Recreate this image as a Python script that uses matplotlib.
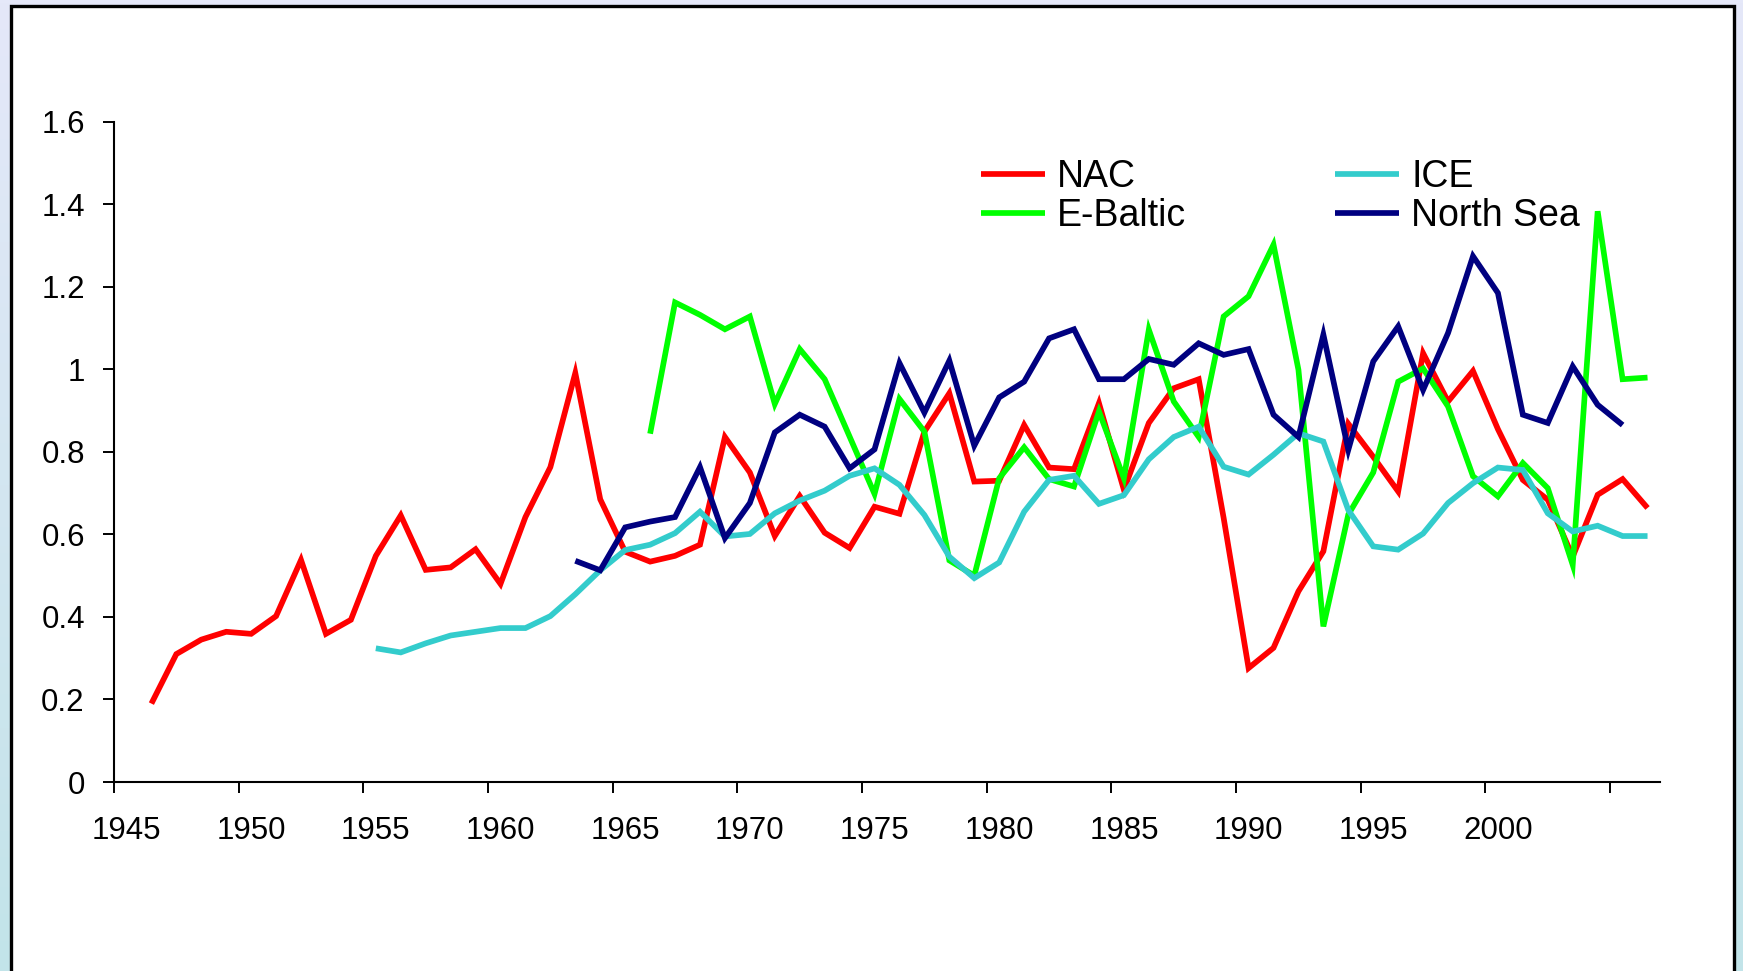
import numpy as np
import matplotlib
matplotlib.use("Agg")
import matplotlib.pyplot as plt
from matplotlib.patches import Rectangle

plt.rcParams['font.family'] = ['Liberation Sans', 'DejaVu Sans']

# ---------------- data ----------------
categories = list(range(1945, 2007))          # category axis 1945..2006
tick_labels = ['1945', '1950', '1955', '1960', '1965', '1970',
               '1975', '1980', '1985', '1990', '1995', '2000']

nac_start = 1946
nac = [0.19, 0.31, 0.345, 0.364, 0.359, 0.402, 0.538, 0.359, 0.393, 0.548,
       0.646, 0.514, 0.520, 0.564, 0.480, 0.642, 0.763, 0.991, 0.685, 0.558,
       0.534, 0.548, 0.575, 0.836, 0.750, 0.596, 0.693, 0.604, 0.567, 0.667,
       0.650, 0.849, 0.942, 0.728, 0.730, 0.865, 0.762, 0.758, 0.918, 0.708,
       0.870, 0.954, 0.976, 0.64, 0.276, 0.325, 0.462, 0.559, 0.868, 0.788,
       0.704, 1.039, 0.922, 0.996, 0.855, 0.732, 0.684, 0.546, 0.696, 0.734,
       0.664]

ebaltic_start = 1966
ebaltic = [0.844, 1.162, 1.132, 1.097, 1.128, 0.916, 1.049, 0.976, 0.837, 0.698,
           0.928, 0.849, 0.537, 0.500, 0.736, 0.811, 0.734, 0.716, 0.898, 0.736,
           1.096, 0.922, 0.836, 1.128, 1.177, 1.302, 0.999, 0.377, 0.648, 0.750,
           0.970, 1.002, 0.910, 0.741, 0.692, 0.773, 0.712, 0.526, 1.383, 0.976,
           0.980]

ice_start = 1955
ice = [0.324, 0.314, 0.336, 0.355, 0.364, 0.373, 0.373, 0.402, 0.455, 0.513,
       0.562, 0.575, 0.603, 0.655, 0.595, 0.601, 0.651, 0.682, 0.706, 0.742,
       0.760, 0.720, 0.647, 0.546, 0.494, 0.532, 0.655, 0.732, 0.742, 0.674,
       0.695, 0.782, 0.836, 0.861, 0.764, 0.745, 0.793, 0.845, 0.825, 0.659,
       0.571, 0.563, 0.602, 0.676, 0.724, 0.762, 0.756, 0.651, 0.607, 0.621,
       0.596, 0.596]

northsea_start = 1963
northsea = [0.536, 0.513, 0.617, 0.631, 0.642, 0.763, 0.591, 0.676, 0.847, 0.890,
            0.861, 0.760, 0.806, 1.015, 0.895, 1.021, 0.815, 0.932, 0.970, 1.075,
            1.097, 0.976, 0.976, 1.025, 1.011, 1.063, 1.035, 1.049, 0.890, 0.836,
            1.084, 0.805, 1.019, 1.104, 0.950, 1.088, 1.274, 1.185, 0.890, 0.870,
            1.007, 0.914, 0.865]

series = [
    ('NAC', nac_start, nac, '#FF0000'),
    ('E-Baltic', ebaltic_start, ebaltic, '#00FF00'),
    ('ICE', ice_start, ice, '#33CCCC'),
    ('North Sea', northsea_start, northsea, '#000080'),
]

# ---------------- figure ----------------
W, H, DPI = 1743, 971, 100
fig = plt.figure(figsize=(W / DPI, H / DPI), dpi=DPI)

# background gradient
bg = fig.add_axes([0, 0, 1, 1], zorder=-10)
top_c = np.array([229, 232, 249]) / 255.0
bot_c = np.array([194, 228, 233]) / 255.0
t = np.linspace(0, 1, 256)[:, None]
grad = (top_c[None, :] * (1 - t) + bot_c[None, :] * t)[:, None, :]
bg.imshow(grad, aspect='auto', extent=[0, 1, 0, 1], origin='upper')
bg.set_xlim(0, 1)
bg.set_ylim(0, 1)
bg.axis('off')
# white panel with black border
bg.add_patch(Rectangle((10.5 / W, -0.05), (1733.5 - 10.5) / W, 1.05 - 6.5 / H,
                       facecolor='white', edgecolor='black', linewidth=2.4,
                       transform=bg.transAxes))

# main axes
x0, x1 = 114, 1660
ytop, ybot = 121.7, 782
ax = fig.add_axes([x0 / W, 1 - ybot / H, (x1 - x0) / W, (ybot - ytop) / H])
ax.patch.set_alpha(0)

first = categories[0]
for name, start, vals, col in series:
    xs = np.arange(len(vals)) + (start - first)
    ax.plot(xs, vals, color=col, linewidth=4.1, label=name,
            solid_joinstyle='miter', solid_capstyle='butt')

ax.set_xlim(-0.5, len(categories) - 0.5)
ax.set_ylim(0, 1.6)

# y axis
ax.set_yticks(np.arange(0, 1.61, 0.2))
ax.set_yticklabels(['0', '0.2', '0.4', '0.6', '0.8', '1', '1.2', '1.4', '1.6'])
ax.tick_params(axis='y', which='major', direction='out', length=8, width=1.4,
               pad=13, labelsize=22.5)

# x axis: ticks between categories, labels centred on categories
ax.set_xticks(np.arange(-0.5, len(categories) - 1, 5))
ax.set_xticklabels([])
lab_pos = [categories.index(int(s)) for s in tick_labels]
ax.set_xticks(lab_pos, minor=True)
ax.set_xticklabels(tick_labels, minor=True)
ax.tick_params(axis='x', which='major', direction='out', length=7.7, width=1.4)
ax.tick_params(axis='x', which='minor', length=0, pad=24.5, labelsize=22.5)

for s in ['top', 'right']:
    ax.spines[s].set_visible(False)
for s in ['left', 'bottom']:
    ax.spines[s].set_linewidth(1.5)

leg = ax.legend(ncol=2, loc='upper left',
                bbox_to_anchor=(981 / W, 1 - 159 / H), bbox_transform=fig.transFigure,
                frameon=False, fontsize=27, handlelength=1.71, handletextpad=0.32,
                columnspacing=3.97, labelspacing=0.09, borderpad=0, borderaxespad=0)

fig.savefig('out.png', dpi=DPI)
